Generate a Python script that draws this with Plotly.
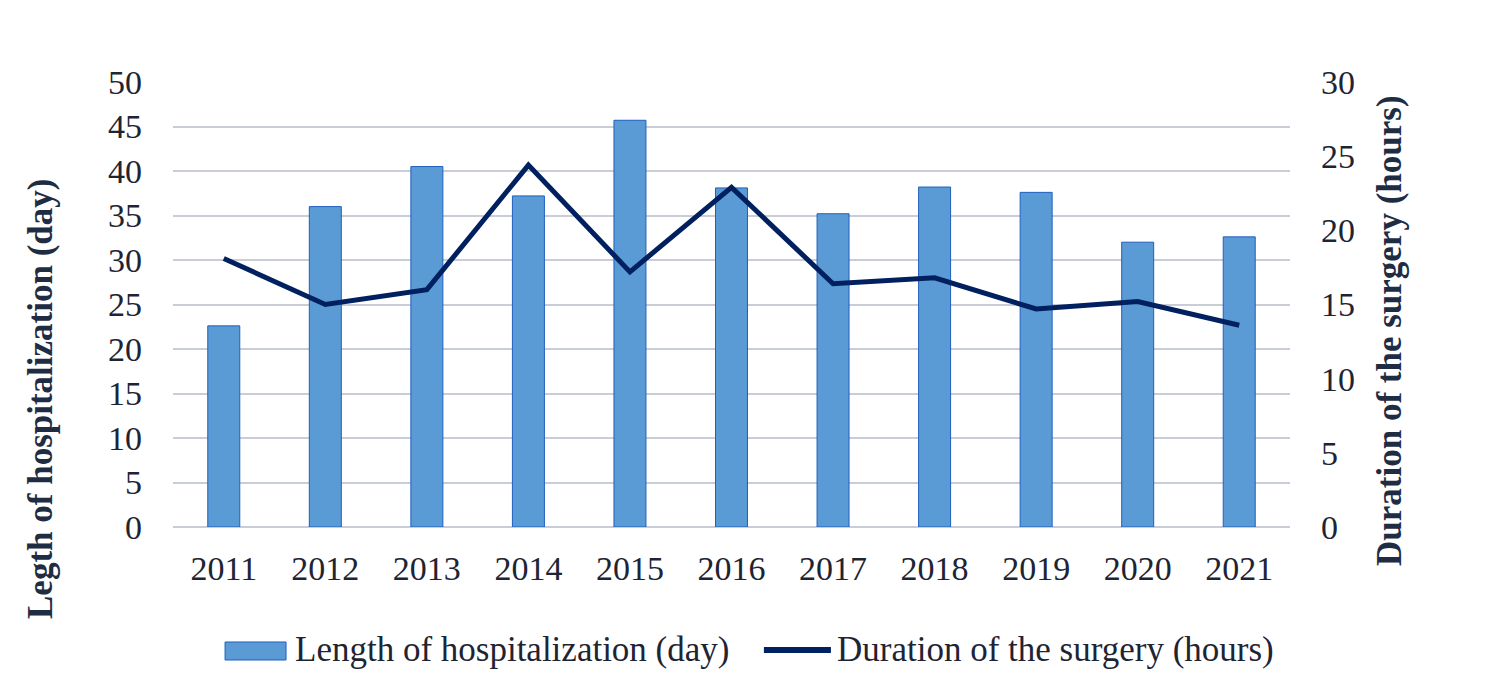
import plotly.graph_objects as go

years = ["2011", "2012", "2013", "2014", "2015", "2016", "2017", "2018", "2019", "2020", "2021"]
hospital_days = [22.6, 36.0, 40.5, 37.2, 45.7, 38.1, 35.2, 38.2, 37.6, 32.0, 32.6]
surgery_hours = [18.1, 15.0, 16.0, 24.4, 17.2, 22.9, 16.4, 16.8, 14.7, 15.2, 13.6]

bar_name = "Length of hospitalization (day)"
line_name = "Duration of the surgery (hours)"
left_title = "Legth of hospitalization (day)"
right_title = "Duration of the surgery (hours)"

font_family = "Liberation Serif, Times New Roman, serif"
bar_color = "#5B9BD5"
bar_edge = "#1F5FBF"
line_color = "#002060"
text_color = "#1E2433"
title_color = "#1F2D44"
grid_color = "#C9CDD7"

fig = go.Figure()
fig.add_trace(go.Bar(
    x=years, y=hospital_days, name=bar_name,
    marker=dict(color=bar_color, line=dict(color=bar_edge, width=1)),
    width=0.315, yaxis="y", showlegend=False,
))
fig.add_trace(go.Scatter(
    x=years, y=surgery_hours, name=line_name, mode="lines",
    line=dict(color=line_color, width=5), yaxis="y2", showlegend=False,
))

fig.update_layout(
    width=1481, height=684,
    paper_bgcolor="white", plot_bgcolor="white",
    margin=dict(l=165, r=199, t=74, b=165),
    font=dict(family=font_family, size=34, color=text_color),
    xaxis=dict(showgrid=False, showline=False, ticks="", ticklabelstandoff=18),
    yaxis=dict(
        range=[0, 50], dtick=5, showgrid=True, gridcolor=grid_color, gridwidth=2,
        zeroline=True, zerolinecolor=grid_color, zerolinewidth=2,
        ticklabelstandoff=30,
    ),
    yaxis2=dict(
        range=[0, 30], dtick=5, overlaying="y", side="right", showgrid=False,
        zeroline=False, ticklabelstandoff=30,
    ),
)

# axis titles sit off-centre in the original, so place them as annotations
fig.add_annotation(text="<b>" + left_title + "</b>", xref="paper", yref="paper",
                   x=-0.1191, y=0.2876, textangle=-90, showarrow=False,
                   xanchor="center", yanchor="middle",
                   font=dict(size=35, color=title_color))
fig.add_annotation(text="<b>" + right_title + "</b>", xref="paper", yref="paper",
                   x=1.0895, y=0.4427, textangle=-90, showarrow=False,
                   xanchor="center", yanchor="middle",
                   font=dict(size=35, color=title_color))

# legend drawn by hand so the keys keep their wide shapes
fig.add_shape(type="rect", xref="paper", yref="paper",
              x0=0.0466, x1=0.1012, y0=-0.2989, y1=-0.2584,
              fillcolor=bar_color, line=dict(color=bar_edge, width=1))
fig.add_shape(type="line", xref="paper", yref="paper",
              x0=0.5290, x1=0.5890, y0=-0.2764, y1=-0.2764,
              line=dict(color=line_color, width=6))
fig.add_annotation(text=bar_name, xref="paper", yref="paper", x=0.1074, y=-0.2764,
                   xanchor="left", yanchor="middle", showarrow=False,
                   font=dict(size=35, color=text_color))
fig.add_annotation(text=line_name, xref="paper", yref="paper", x=0.5927, y=-0.2764,
                   xanchor="left", yanchor="middle", showarrow=False,
                   font=dict(size=35, color=text_color))

fig.write_html("out.html")
